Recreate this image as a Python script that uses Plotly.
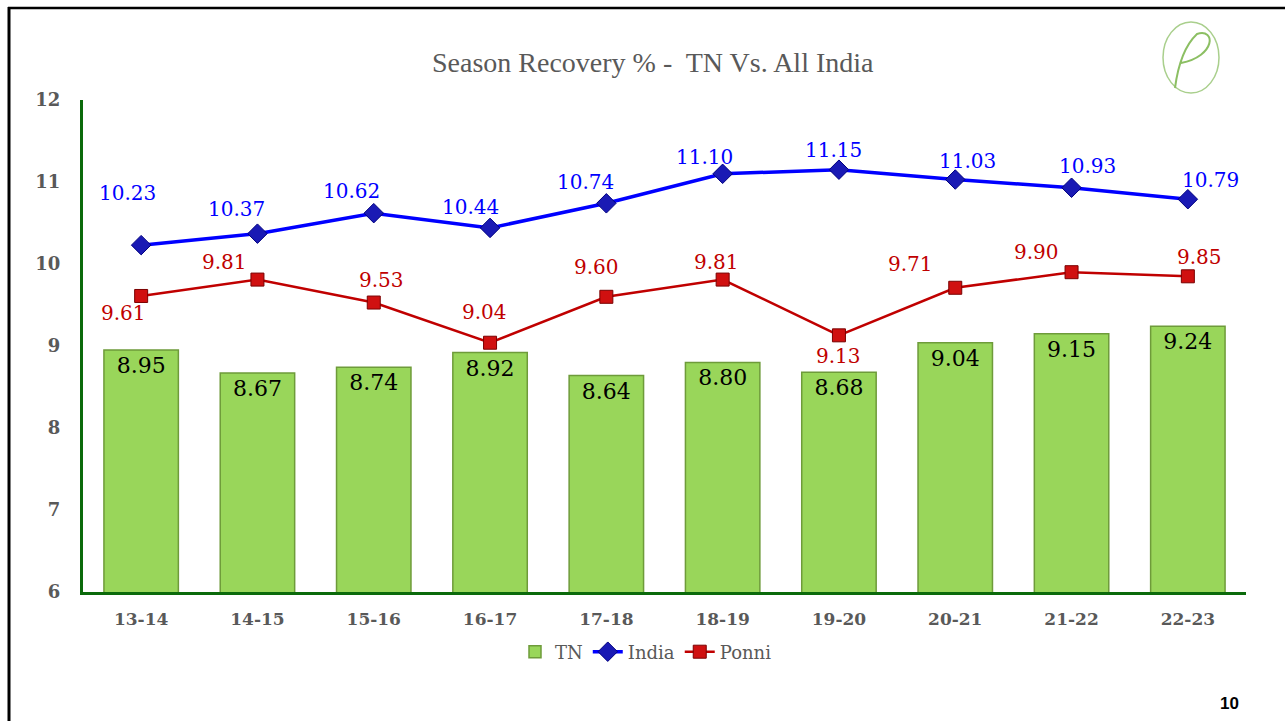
import plotly.graph_objects as go

seasons = ["13-14", "14-15", "15-16", "16-17", "17-18", "18-19", "19-20", "20-21", "21-22", "22-23"]
tn = [8.95, 8.67, 8.74, 8.92, 8.64, 8.80, 8.68, 9.04, 9.15, 9.24]
india = [10.23, 10.37, 10.62, 10.44, 10.74, 11.10, 11.15, 11.03, 10.93, 10.79]
ponni = [9.61, 9.81, 9.53, 9.04, 9.60, 9.81, 9.13, 9.71, 9.90, 9.85]
y_ticks = [6, 7, 8, 9, 10, 11, 12]

# label offsets (pixels) for the line data labels
india_dx = [-14, -21, -22, -20, -21, -18, -5, 12, 16, 23]
india_dy = [52, 25, 22, 21, 21, 17, 20, 19, 22, 19]
ponni_dx = [-18, -33, 8, -6, -10, -6, 0, -45, -35, 12]
ponni_dy = [-17, 18, 23, 31, 30, 18, -21, 24, 20, 19]

W, H = 1285, 721
L, R, T, B = 83, 39, 100, 129
PW, PH = W - L - R, H - T - B


def px(x):
    return (x - L) / PW


def py(y):
    return (H - B - y) / PH


GRAY = "#595959"
SERIF = "DejaVu Serif"

fig = go.Figure()
fig.add_trace(go.Bar(
    x=seasons, y=tn, name="TN",
    marker=dict(color="#99D65A", line=dict(color="#6E9B3A", width=1.5)),
    width=0.64,
    text=[f"{v:.2f}" for v in tn], textposition="inside", insidetextanchor="end",
    textfont=dict(family=SERIF, size=22, color="black"),
    textangle=0, cliponaxis=False,
))
fig.add_trace(go.Scatter(
    x=seasons, y=india, name="India", mode="lines+markers",
    line=dict(color="#0000FF", width=3.5),
    marker=dict(symbol="diamond", size=15, color="#1A1AB4", line=dict(color="#000080", width=1)),
))
fig.add_trace(go.Scatter(
    x=seasons, y=ponni, name="Ponni", mode="lines+markers",
    line=dict(color="#C00000", width=2.5),
    marker=dict(symbol="square", size=13, color="#D01010", line=dict(color="#7A0000", width=1)),
))

ann = []
for s, v, dx, dy in zip(seasons, india, india_dx, india_dy):
    ann.append(dict(x=s, y=v, xref="x", yref="y", text=f"{v:.2f}", showarrow=False,
                    xshift=dx, yshift=dy, font=dict(family=SERIF, size=20, color="#0000FF")))
for s, v, dx, dy in zip(seasons, ponni, ponni_dx, ponni_dy):
    ann.append(dict(x=s, y=v, xref="x", yref="y", text=f"{v:.2f}", showarrow=False,
                    xshift=dx, yshift=dy, font=dict(family=SERIF, size=20, color="#C00000")))

ann.append(dict(x=px(653), y=py(62), xref="paper", yref="paper", showarrow=False,
                xanchor="center", yanchor="middle",
                text="Season Recovery % -  TN Vs. All India",
                font=dict(family="Liberation Serif", size=28, color=GRAY)))
ann.append(dict(x=px(1229), y=py(703), xref="paper", yref="paper", showarrow=False,
                xanchor="center", yanchor="middle",
                text="<b>10</b>", font=dict(family="Liberation Sans", size=17, color="black")))

shapes = [
    dict(type="line", xref="paper", yref="paper", x0=px(8), x1=px(W), y0=py(8), y1=py(8),
         line=dict(color="black", width=2.5)),
    dict(type="line", xref="paper", yref="paper", x0=px(9), x1=px(9), y0=py(7), y1=py(H),
         line=dict(color="black", width=3)),
    dict(type="circle", xref="paper", yref="paper", x0=px(1163), x1=px(1219), y0=py(93), y1=py(22),
         line=dict(color="#A9CF8C", width=1.5)),
    dict(type="path", xref="paper", yref="paper",
         path=(f"M {px(1175)} {py(88)} Q {px(1180)} {py(50)} {px(1197)} {py(34)} "
               f"C {px(1216)} {py(28)} {px(1216)} {py(56)} {px(1181)} {py(63)}"),
         line=dict(color="#8CBF63", width=2)),
]

fig.update_layout(
    width=W, height=H,
    margin=dict(l=L, r=R, t=T, b=B),
    paper_bgcolor="white", plot_bgcolor="white",
    showlegend=True,
    legend=dict(orientation="h", x=px(646), xanchor="center", y=py(652), yanchor="middle",
                font=dict(family=SERIF, size=18, color=GRAY), itemwidth=30,
                tracegroupgap=0, bgcolor="rgba(0,0,0,0)"),
    annotations=ann, shapes=shapes,
    bargap=0.36,
)
fig.update_xaxes(
    range=[-0.5, 9.5],
    showline=True, linecolor="#0B6A0B", linewidth=3, showgrid=False, ticks="",
    tickfont=dict(family=SERIF, size=17, color=GRAY, weight="bold"),
    ticklabelstandoff=10, fixedrange=True,
)
fig.update_yaxes(
    range=[6, 12], tickvals=y_ticks, showline=True, linecolor="#0B6A0B", linewidth=3,
    showgrid=False, zeroline=False, ticks="",
    tickfont=dict(family=SERIF, size=18, color=GRAY, weight="bold"),
    ticklabelstandoff=16, fixedrange=True,
)

fig.write_html(
    "out.html",
    config={"displayModeBar": False},
    post_script="document.body.style.margin='0';document.body.style.overflow='hidden';",
)
